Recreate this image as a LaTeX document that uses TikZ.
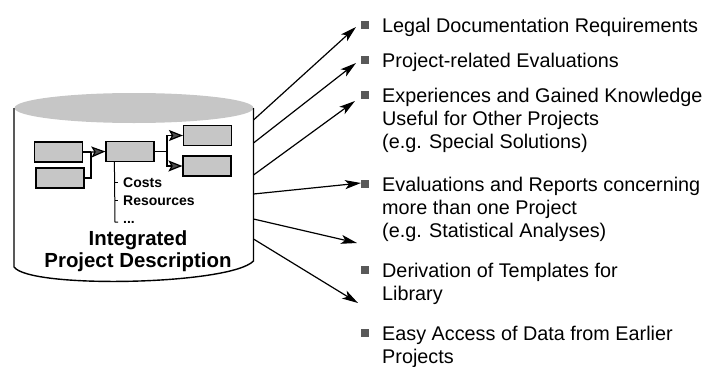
\documentclass[tikz,border=0pt]{standalone}
\usepackage{fontspec}
\setmainfont{Liberation Sans}
\usetikzlibrary{arrows.meta}
\begin{document}
\begin{tikzpicture}[x=1pt,y=-1pt,
  box/.style={draw, line width=1.2pt, fill=gray!45, minimum width=48pt, minimum height=20pt, inner sep=0pt},
  flow/.style={line width=1.2pt},
  flowarrow/.style={line width=1.2pt, -{Stealth[length=14pt,width=11pt,inset=3pt,fill=black!70]}},
  outarrow/.style={line width=1.2pt, -{Stealth[length=16pt,width=9pt,inset=4pt]}},
  bulletbox/.style={fill=black!65, minimum size=8.5pt, inner sep=0pt},
  itemtext/.style={anchor=north west, align=left, inner sep=0pt, font=\fontsize{19.8}{23.3}\selectfont},
  smalllbl/.style={anchor=base west, inner sep=0pt, font=\fontsize{14}{16}\selectfont\bfseries},
  titletext/.style={anchor=north, align=center, inner sep=0pt, font=\fontsize{20.4}{22}\selectfont\bfseries},
  cyl/.style={line width=1.4pt}
]
\useasboundingbox (0,0) rectangle (718,367);

% cylinder
\fill[gray!45] (134,108) ellipse [x radius=119.5, y radius=15];
\coordinate (tl) at (14,108);
\coordinate (bl) at (14,267);
\coordinate (tr) at (253.5,108);
\coordinate (br) at (253.5,261);
\draw[cyl] (tl) -- (bl) .. controls (30,289) and (230,285) .. (br) -- (tr);

% boxes inside
\node[box] (a) at (58.5,152) {};
\node[box] (b) at (60,178) {};
\node[box] (c) at (130,151.5) {};
\node[box] (d) at (207.5,135.5) {};
\node[box] (e) at (207,166) {};

\coordinate (j1) at (91,152);
\draw[flow] (a.east) -- (j1);
\draw[flow] (b.east) -| (j1);
\draw[flowarrow] (j1) -- (c.west);
\coordinate (j2) at (167,151.5);
\draw[flow] (c.east) -- (j2);
\draw[flowarrow] (j2) |- (d.west);
\draw[flowarrow] (j2) |- (e.west);

% attribute list
\node[smalllbl] (costs) at (123,187) {Costs};
\node[smalllbl] (res) at (123,205) {Resources};
\node[smalllbl] (dots) at (123,223) {...};
\coordinate (t0) at ([xshift=9pt]c.south west);
\coordinate (t3) at (115,222);
\draw[line width=1pt] (t0) -- (t3) -- ++(3,0);
\draw[line width=1pt] (costs.west -| t3) -- ++(3,0);
\draw[line width=1pt] (res.west -| t3) -- ++(3,0);

\node[titletext] (title) at (138,230.5) {Integrated\\Project Description};

% items
\node[bulletbox] (b1) at (365,25) {};
\node[itemtext] (i1) at (382,15.7) {\strut Legal Documentation Requirements};
\node[bulletbox] (b2) at (365,60) {};
\node[itemtext] (i2) at (382,50.7) {\strut Project-related Evaluations};
\node[bulletbox] (b3) at (365,95) {};
\node[itemtext] (i3) at (382,85.7) {\strut Experiences and Gained Knowledge\\Useful for Other Projects\\(e.g. Special Solutions)};
\node[bulletbox] (b4) at (365,184) {};
\node[itemtext] (i4) at (382,174.7) {\strut Evaluations and Reports concerning\\more than one Project\\(e.g. Statistical Analyses)};
\node[bulletbox] (b5) at (365,270) {};
\node[itemtext] (i5) at (382,260.7) {\strut Derivation of Templates for\\Library};
\node[bulletbox] (b6) at (365,333) {};
\node[itemtext] (i6) at (382,323.7) {\strut Easy Access of Data from Earlier\\Projects};

% outgoing arrows
\coordinate (s1) at (253.5,120);
\coordinate (s2) at (253.5,143);
\coordinate (s3) at (253.5,175);
\coordinate (s4) at (253.5,194);
\coordinate (s5) at (253.5,219);
\coordinate (s6) at (253.5,239);
\coordinate (p1) at (356,27);
\coordinate (p2) at (356,63);
\coordinate (p3) at (355,101);
\coordinate (p4) at (361,183);
\coordinate (p5) at (357,243);
\coordinate (p6) at (358,303);
\draw[outarrow] (s1) -- (p1);
\draw[outarrow] (s2) -- (p2);
\draw[outarrow] (s3) -- (p3);
\draw[outarrow] (s4) -- (p4);
\draw[outarrow] (s5) -- (p5);
\draw[outarrow] (s6) -- (p6);
\end{tikzpicture}
\end{document}
